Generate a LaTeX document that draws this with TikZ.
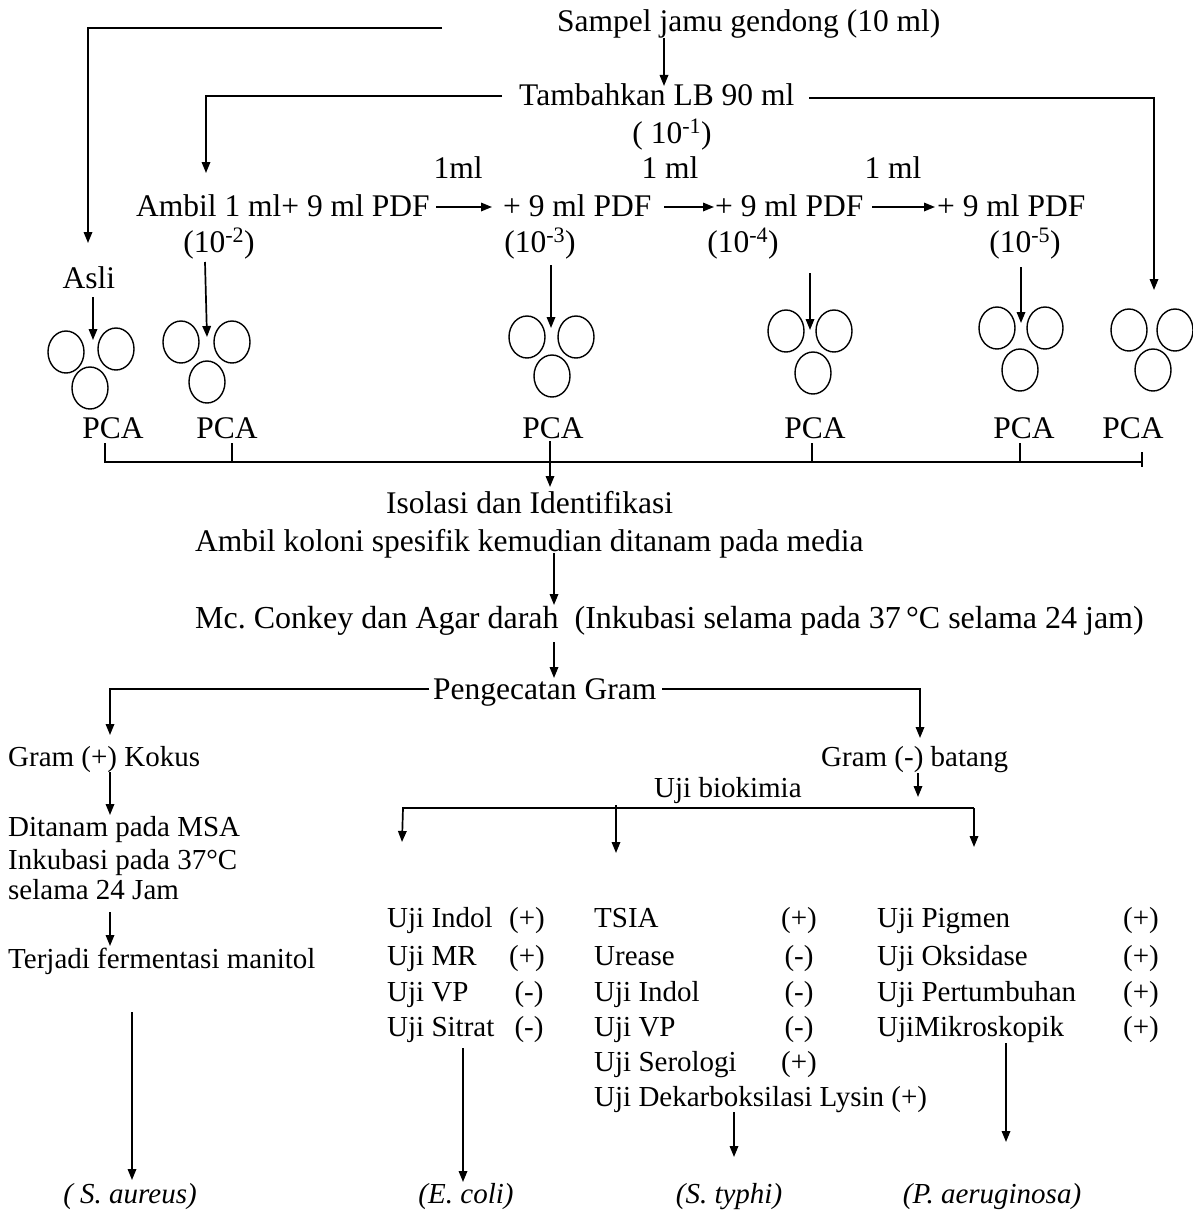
\documentclass[tikz,border=0pt]{standalone}
\usepackage{fontspec}
\setmainfont{Liberation Serif}
\usetikzlibrary{arrows.meta,shapes.geometric}
\frenchspacing
\newcommand\fsUp{\fontsize{31.5}{36}\selectfont}
\newcommand\fsLo{\fontsize{29}{34}\selectfont}
\tikzset{
  lbl/.style={inner sep=0pt, anchor=base west, font=\fsUp},
  lblc/.style={inner sep=0pt, anchor=base, font=\fsUp},
  lo/.style={inner sep=0pt, anchor=base west, font=\fsLo},
  loc/.style={inner sep=0pt, anchor=base, font=\fsLo},
  spec/.style={inner sep=0pt, anchor=base, font=\fsLo\itshape},
  conn/.style={line width=1.7pt},
  arr/.style={line width=1.7pt, -{Triangle[length=11pt,width=8.5pt]}},
  plate/.style={draw, ellipse, line width=1.4pt, minimum width=36pt, minimum height=42pt, inner sep=0pt}
}
\begin{document}
\begin{tikzpicture}[x=1pt,y=-1pt]
\useasboundingbox (0,0) rectangle (1193,1212);
\fill[white] (0,0) rectangle (1193,1212);

% ---------- top texts ----------
\node[lbl] (sampel) at (557,32) {Sampel jamu gendong (10 ml)};
\node[lbl] (tamb) at (519,106) {Tambahkan LB 90 ml};
\node[lblc] (d1) at (672,143) {( 10\textsuperscript{-1})};
\node[lblc] (ml1) at (458,178) {1ml};
\node[lblc] (ml2) at (670,178) {1 ml};
\node[lblc] (ml3) at (893,178) {1 ml};
\node[lbl] (s1) at (136,216) {Ambil 1 ml+ 9 ml PDF};
\node[lbl] (s2) at (503,216) {+ 9 ml PDF};
\node[lbl] (s3) at (715,216) {+ 9 ml PDF};
\node[lbl] (s4) at (937,216) {+ 9 ml PDF};
\node[lblc] (d2) at (219,252) {(10\textsuperscript{-2})};
\node[lblc] (d3) at (540,252) {(10\textsuperscript{-3})};
\node[lblc] (d4) at (743,252) {(10\textsuperscript{-4})};
\node[lblc] (d5) at (1025,252) {(10\textsuperscript{-5})};
\node[lblc] (asli) at (89,288) {Asli};

% ---------- plates ----------
\node[plate] (g1a) at (66,352) {};
\node[plate] (g1b) at (116,349) {};
\node[plate] (g1c) at (90,388) {};
\node[plate] (g2a) at (181,342) {};
\node[plate] (g2b) at (232,342) {};
\node[plate] (g2c) at (207,382) {};
\node[plate] (g3a) at (527,337) {};
\node[plate] (g3b) at (576,337) {};
\node[plate] (g3c) at (552,376) {};
\node[plate] (g4a) at (786,331) {};
\node[plate] (g4b) at (834,331) {};
\node[plate] (g4c) at (813,373) {};
\node[plate] (g5a) at (997,328) {};
\node[plate] (g5b) at (1045,328) {};
\node[plate] (g5c) at (1020,370) {};
\node[plate] (g6a) at (1129,330) {};
\node[plate] (g6b) at (1175,330) {};
\node[plate] (g6c) at (1153,370) {};

\node[lblc] (p1) at (113,438) {PCA};
\node[lblc] (p2) at (227,438) {PCA};
\node[lblc] (p3) at (553,438) {PCA};
\node[lblc] (p4) at (815,438) {PCA};
\node[lblc] (p5) at (1024,438) {PCA};
\node[lblc] (p6) at (1133,438) {PCA};

% ---------- middle texts ----------
\node[lbl] (iso) at (386,513) {Isolasi dan Identifikasi};
\node[lbl] (kol) at (195,551) {Ambil koloni spesifik kemudian ditanam pada media};
\node[lbl, font=\fontsize{32}{36}\selectfont] (mc) at (195,628) {Mc. Conkey dan Agar darah\ \ (Inkubasi selama pada 37\,°C selama 24 jam)};
\node[lbl] (peng) at (433,699) {Pengecatan Gram};
\node[lo] (gpos) at (8,766) {Gram (+) Kokus};
\node[lo] (gneg) at (821,766) {Gram (-) batang};
\node[lo] (biok) at (654,797) {Uji biokimia};
\node[lo] (msa) at (8,836) {Ditanam pada MSA};
\node[lo] (ink) at (8,869) {Inkubasi pada 37°C};
\node[lo] (sel) at (8,899) {selama 24 Jam};
\node[lo] (ferm) at (8,968) {Terjadi fermentasi manitol};

% ---------- table ----------
\node[lo] (a1) at (387,927) {Uji Indol};
\node[lo] (a2) at (387,965) {Uji MR};
\node[lo] (a3) at (387,1001) {Uji VP};
\node[lo] (a4) at (387,1036) {Uji Sitrat};
\node[loc] (av1) at (527,927) {(+)};
\node[loc] (av2) at (527,965) {(+)};
\node[loc] (av3) at (529,1001) {(-)};
\node[loc] (av4) at (529,1036) {(-)};
\node[lo] (b1) at (594,927) {TSIA};
\node[lo] (b2) at (594,965) {Urease};
\node[lo] (b3) at (594,1001) {Uji Indol};
\node[lo] (b4) at (594,1036) {Uji VP};
\node[lo] (b5) at (594,1071) {Uji Serologi};
\node[lo] (b6) at (594,1106) {Uji Dekarboksilasi Lysin (+)};
\node[loc] (bv1) at (799,927) {(+)};
\node[loc] (bv2) at (799,965) {(-)};
\node[loc] (bv3) at (799,1001) {(-)};
\node[loc] (bv4) at (799,1036) {(-)};
\node[loc] (bv5) at (799,1071) {(+)};
\node[lo] (c1) at (877,927) {Uji Pigmen};
\node[lo] (c2) at (877,965) {Uji Oksidase};
\node[lo] (c3) at (877,1001) {Uji Pertumbuhan};
\node[lo] (c4) at (877,1036) {UjiMikroskopik};
\node[loc] (cv1) at (1141,927) {(+)};
\node[loc] (cv2) at (1141,965) {(+)};
\node[loc] (cv3) at (1141,1001) {(+)};
\node[loc] (cv4) at (1141,1036) {(+)};

% ---------- results ----------
\node[spec] (sa) at (130,1203) {( S. aureus)};
\node[spec] (ec) at (466,1203) {(E. coli)};
\node[spec] (st) at (729,1203) {(S. typhi)};
\node[spec] (pa) at (992,1203) {(P. aeruginosa)};

% ---------- coordinates ----------
\coordinate (t1) at (442,28);
\coordinate (t1c) at (88,28);
\coordinate (t1e) at (88,243);
\coordinate (t2s) at (664,38);
\coordinate (t2e) at (664,86);
\coordinate (t3s) at (502,96);
\coordinate (t3c) at (206,96);
\coordinate (t3e) at (206,173);
\coordinate (t4s) at (809,98);
\coordinate (t4c) at (1154,98);
\coordinate (t4e) at (1154,290);
\coordinate (r1s) at (436,207); \coordinate (r1e) at (492,207);
\coordinate (r2s) at (664,207); \coordinate (r2e) at (714,207);
\coordinate (r3s) at (872,207); \coordinate (r3e) at (935,207);
\coordinate (q1s) at (93,297);  \coordinate (q1e) at (93,340);
\coordinate (q2s) at (205,262); \coordinate (q2e) at (207,337);
\coordinate (q3s) at (551,265); \coordinate (q3e) at (551,328);
\coordinate (q4s) at (810,273); \coordinate (q4e) at (810,330);
\coordinate (q5s) at (1021,267); \coordinate (q5e) at (1021,323);
\coordinate (k1) at (105,443); \coordinate (k1b) at (105,462);
\coordinate (k2) at (232,443); \coordinate (k2b) at (232,462);
\coordinate (k4) at (812,443); \coordinate (k4b) at (812,462);
\coordinate (k5) at (1020,443); \coordinate (k5b) at (1020,462);
\coordinate (k6) at (1142,452); \coordinate (k6b) at (1142,467);
\coordinate (kr) at (1142,462);
\coordinate (m0s) at (550,441); \coordinate (m0e) at (550,487);
\coordinate (m1s) at (554,553); \coordinate (m1e) at (554,605);
\coordinate (m2s) at (554,642); \coordinate (m2e) at (554,678);
\coordinate (pl) at (429,689); \coordinate (plc) at (110,689); \coordinate (ple) at (110,735);
\coordinate (pr) at (662,689); \coordinate (prc) at (920,689); \coordinate (pre) at (920,738);
\coordinate (l1s) at (110,772); \coordinate (l1e) at (110,815);
\coordinate (l2s) at (110,912); \coordinate (l2e) at (110,946);
\coordinate (l3s) at (132,1012); \coordinate (l3e) at (132,1180);
\coordinate (n1s) at (918,773); \coordinate (n1e) at (918,797);
\coordinate (bl) at (402,808); \coordinate (br) at (974,808);
\coordinate (bla) at (403,808); \coordinate (ble) at (402,842);
\coordinate (bms) at (616,805); \coordinate (bme) at (616,853);
\coordinate (bre) at (974,847);
\coordinate (e1s) at (463,1048); \coordinate (e1e) at (463,1182);
\coordinate (e2s) at (734,1112); \coordinate (e2e) at (734,1157);
\coordinate (e3s) at (1006,1043); \coordinate (e3e) at (1006,1142);

% ---------- connectors ----------
\draw[arr] (t1) -- (t1c) -- (t1e);
\draw[arr] (t2s) -- (t2e);
\draw[arr] (t3s) -- (t3c) -- (t3e);
\draw[arr] (t4s) -- (t4c) -- (t4e);
\draw[arr] (r1s) -- (r1e);
\draw[arr] (r2s) -- (r2e);
\draw[arr] (r3s) -- (r3e);
\draw[arr] (q1s) -- (q1e);
\draw[arr] (q2s) -- (q2e);
\draw[arr] (q3s) -- (q3e);
\draw[arr] (q4s) -- (q4e);
\draw[arr] (q5s) -- (q5e);
\draw[conn] (k1) -- (k1b) -- (kr);
\draw[line width=1.2pt] (k2) -- (k2b);
\draw[line width=1.2pt] (k4) -- (k4b);
\draw[line width=1.2pt] (k5) -- (k5b);
\draw[line width=1.2pt] (k6) -- (k6b);
\draw[arr] (m0s) -- (m0e);
\draw[arr] (m1s) -- (m1e);
\draw[arr] (m2s) -- (m2e);
\draw[arr] (pl) -- (plc) -- (ple);
\draw[arr] (pr) -- (prc) -- (pre);
\draw[arr] (l1s) -- (l1e);
\draw[arr] (l2s) -- (l2e);
\draw[arr] (l3s) -- (l3e);
\draw[arr] (n1s) -- (n1e);
\draw[conn] (bl) -- (br);
\draw[arr] (bla) -- (ble);
\draw[arr] (bms) -- (bme);
\draw[arr] (br) -- (bre);
\draw[arr] (e1s) -- (e1e);
\draw[arr] (e2s) -- (e2e);
\draw[arr] (e3s) -- (e3e);
\end{tikzpicture}
\end{document}
